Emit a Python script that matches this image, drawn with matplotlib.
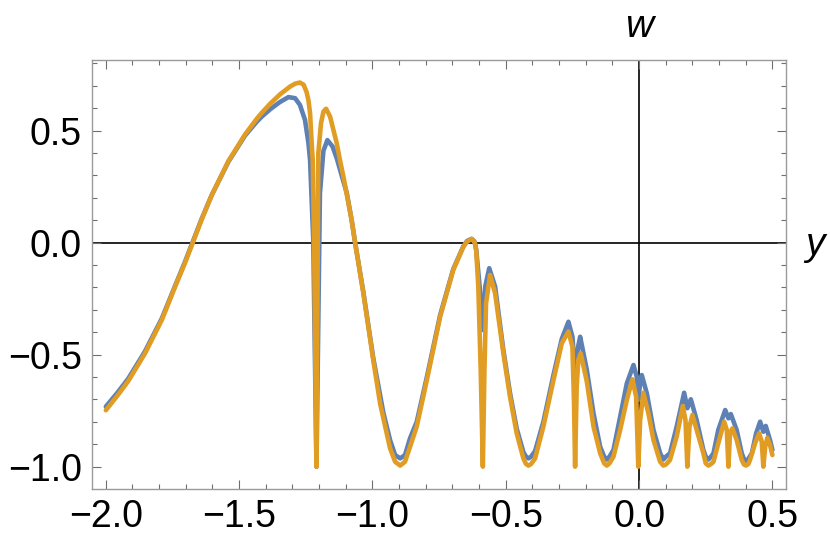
import matplotlib
matplotlib.use("Agg")
import matplotlib.pyplot as plt
import matplotlib.transforms as mtransforms
from matplotlib.ticker import MultipleLocator

# ---- data ----
blue_x = [-2.000, -1.958, -1.916, -1.853, -1.790, -1.740, -1.703, -1.674, -1.640, -1.603,
          -1.540, -1.478, -1.434, -1.415, -1.384, -1.372, -1.347, -1.315, -1.290, -1.272,
          -1.253, -1.240, -1.234, -1.222, -1.210, -1.197, -1.184, -1.169, -1.150, -1.134,
          -1.096, -1.078, -1.065, -1.034, -0.997, -0.959, -0.934, -0.915, -0.896, -0.878,
          -0.859, -0.834, -0.796, -0.746, -0.697, -0.659, -0.645, -0.628, -0.617, -0.611,
          -0.598, -0.586, -0.577, -0.562, -0.540, -0.509, -0.484, -0.459, -0.434, -0.424,
          -0.415, -0.405, -0.390, -0.359, -0.321, -0.290, -0.265, -0.250, -0.240, -0.228,
          -0.221, -0.196, -0.171, -0.146, -0.131, -0.121, -0.111, -0.096, -0.071, -0.046,
          -0.021, -0.009, -0.003, 0.004, 0.010, 0.029, 0.054, 0.079, 0.091, 0.101,
          0.116, 0.141, 0.169, 0.181, 0.194, 0.216, 0.241, 0.250, 0.260, 0.270,
          0.279, 0.297, 0.323, 0.335, 0.344, 0.366, 0.385, 0.393, 0.401, 0.410,
          0.423, 0.439, 0.454, 0.466, 0.475, 0.491, 0.500]
blue_w = [-0.732, -0.672, -0.607, -0.485, -0.338, -0.192, -0.085, 0.004, 0.108, 0.212,
          0.362, 0.478, 0.540, 0.563, 0.595, 0.606, 0.628, 0.650, 0.645, 0.615,
          0.548, 0.444, 0.369, 0.010, -1.000, 0.220, 0.410, 0.458, 0.430, 0.377,
          0.220, 0.100, 0.000, -0.222, -0.515, -0.760, -0.881, -0.948, -0.963, -0.948,
          -0.873, -0.800, -0.600, -0.322, -0.118, -0.016, 0.008, 0.017, 0.005, -0.030,
          -0.196, -0.390, -0.196, -0.114, -0.196, -0.480, -0.672, -0.830, -0.935, -0.955,
          -0.963, -0.955, -0.930, -0.800, -0.590, -0.430, -0.353, -0.420, -0.583, -0.460,
          -0.420, -0.568, -0.762, -0.911, -0.955, -0.968, -0.955, -0.925, -0.777, -0.628,
          -0.546, -0.598, -0.702, -0.628, -0.591, -0.672, -0.836, -0.940, -0.968, -0.955,
          -0.940, -0.821, -0.670, -0.739, -0.699, -0.792, -0.925, -0.955, -0.968, -0.955,
          -0.940, -0.836, -0.747, -0.784, -0.765, -0.836, -0.940, -0.965, -0.975, -0.965,
          -0.940, -0.851, -0.799, -0.844, -0.818, -0.881, -0.925]

orange_x = [-2.000, -1.958, -1.916, -1.853, -1.790, -1.740, -1.703, -1.674, -1.640, -1.603,
            -1.540, -1.478, -1.434, -1.415, -1.384, -1.347, -1.309, -1.290, -1.272, -1.258,
            -1.247, -1.240, -1.234, -1.228, -1.224, -1.219, -1.210, -1.203, -1.193, -1.184,
            -1.174, -1.159, -1.134, -1.122, -1.109, -1.078, -1.065, -1.034, -0.997, -0.971,
            -0.934, -0.915, -0.896, -0.878, -0.859, -0.834, -0.796, -0.746, -0.697, -0.659,
            -0.645, -0.628, -0.617, -0.611, -0.603, -0.594, -0.586, -0.580, -0.574, -0.559,
            -0.540, -0.509, -0.484, -0.459, -0.434, -0.424, -0.415, -0.405, -0.390, -0.359,
            -0.321, -0.290, -0.265, -0.250, -0.244, -0.240, -0.234, -0.228, -0.219, -0.196,
            -0.171, -0.146, -0.131, -0.121, -0.111, -0.096, -0.071, -0.046, -0.025, -0.011,
            -0.003, 0.004, 0.016, 0.035, 0.054, 0.079, 0.091, 0.101, 0.116, 0.141,
            0.164, 0.174, 0.181, 0.189, 0.200, 0.216, 0.241, 0.250, 0.260, 0.270,
            0.279, 0.297, 0.319, 0.329, 0.335, 0.341, 0.350, 0.366, 0.385, 0.393,
            0.401, 0.410, 0.416, 0.435, 0.450, 0.460, 0.466, 0.473, 0.481, 0.491,
            0.500]
orange_w = [-0.748, -0.685, -0.618, -0.494, -0.345, -0.196, -0.090, 0.000, 0.105, 0.212,
            0.365, 0.483, 0.553, 0.580, 0.620, 0.662, 0.697, 0.710, 0.715, 0.705,
            0.672, 0.635, 0.578, 0.444, 0.369, 0.012, -1.000, 0.400, 0.533, 0.585,
            0.598, 0.563, 0.444, 0.369, 0.295, 0.101, 0.000, -0.226, -0.524, -0.720,
            -0.918, -0.978, -0.995, -0.978, -0.911, -0.821, -0.613, -0.330, -0.122, -0.018,
            0.005, 0.017, 0.003, -0.033, -0.196, -0.568, -1.000, -0.568, -0.271, -0.144,
            -0.226, -0.494, -0.688, -0.851, -0.963, -0.988, -0.995, -0.988, -0.963, -0.821,
            -0.613, -0.449, -0.397, -0.464, -0.717, -1.000, -0.643, -0.524, -0.494, -0.620,
            -0.821, -0.940, -0.985, -0.995, -0.985, -0.955, -0.836, -0.702, -0.610, -0.688,
            -1.000, -0.792, -0.670, -0.762, -0.881, -0.978, -0.995, -0.990, -0.970, -0.866,
            -0.729, -0.792, -1.000, -0.821, -0.769, -0.836, -0.940, -0.985, -0.995, -0.988,
            -0.978, -0.896, -0.799, -0.836, -1.000, -0.851, -0.829, -0.881, -0.970, -0.990,
            -0.995, -0.988, -0.970, -0.896, -0.851, -0.888, -1.000, -0.911, -0.871, -0.903,
            -0.948]

x_major = [-2.0, -1.5, -1.0, -0.5, 0.0, 0.5]
x_labels = ["\u22122.0", "\u22121.5", "\u22121.0", "\u22120.5", "0.0", "0.5"]
y_major = [-1.0, -0.5, 0.0, 0.5]
y_labels = ["\u22121.0", "\u22120.5", "0.0", "0.5"]

BLUE = (0.368417, 0.506779, 0.709798)
ORANGE = (0.880722, 0.611041, 0.142051)
FRAME = "#9a9a9a"
TICK = "#6e6e6e"

plt.rcParams["font.family"] = ["Liberation Sans", "DejaVu Sans"]

fig = plt.figure(figsize=(8.30, 5.43), dpi=100)
ax = fig.add_axes([91.7 / 830, 1 - 489 / 543, (786 - 91.7) / 830, (489 - 60) / 543])

ax.axhline(0, color="black", lw=1.2, zorder=1)
ax.axvline(0, color="black", lw=1.2, zorder=1)

ax.plot(blue_x, blue_w, color=BLUE, lw=3.3, solid_joinstyle="round",
        solid_capstyle="round", zorder=2)
ax.plot(orange_x, orange_w, color=ORANGE, lw=3.3, solid_joinstyle="round",
        solid_capstyle="round", zorder=3)

ax.set_xlim(-2.053, 0.551)
ax.set_ylim(-1.0996, 0.8156)

ax.set_xticks(x_major)
ax.set_xticklabels(x_labels)
ax.set_yticks(y_major)
ax.set_yticklabels(y_labels)
ax.xaxis.set_minor_locator(MultipleLocator(0.1))
ax.yaxis.set_minor_locator(MultipleLocator(0.1))

ax.tick_params(which="both", direction="in", top=True, right=True, color=TICK,
               width=0.8, labelsize=27, labelcolor="black")
ax.tick_params(which="major", length=6.5, pad=7)
ax.tick_params(which="minor", length=3.6)
for s in ax.spines.values():
    s.set_color(FRAME)
    s.set_linewidth(1.0)

trans_x = mtransforms.blended_transform_factory(ax.transData, ax.transAxes)
ax.text(0.0, 1.0543, "w", transform=trans_x, ha="center", va="baseline",
        fontsize=28, style="italic")
trans_y = mtransforms.blended_transform_factory(ax.transAxes, ax.transData)
ax.text(1.0418, -0.055, "y", transform=trans_y, ha="center", va="baseline",
        fontsize=28, style="italic")

fig.savefig("out.png", dpi=100)
